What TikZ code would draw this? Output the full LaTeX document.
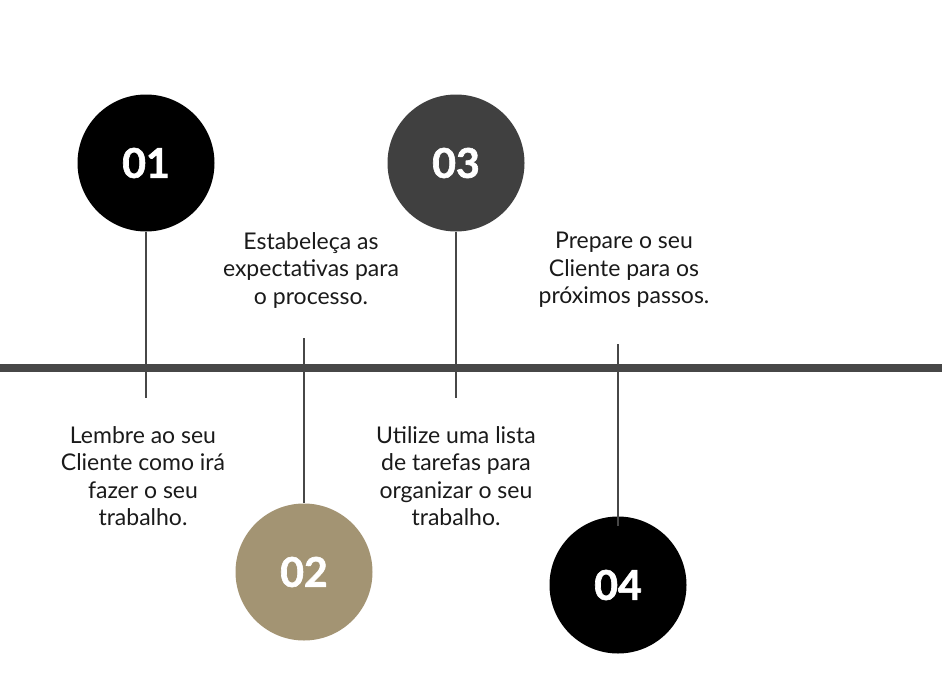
\documentclass[tikz,border=0pt]{standalone}
\usepackage{fontspec}
\setmainfont{Lato}
\newfontfamily\numfont[BoldFeatures={FakeBold=1.6}]{Lato}
\usepackage{tikz}
\usetikzlibrary{positioning,calc}
\definecolor{stepblack}{HTML}{000000}
\definecolor{stepgray}{HTML}{404040}
\definecolor{steptan}{HTML}{A39473}
\definecolor{lineclr}{HTML}{474747}
\definecolor{txtclr}{HTML}{1A1A1A}

\begin{document}
\begin{tikzpicture}[
        x=1pt, y=-1pt,
        dot/.style={circle, minimum size=137pt, inner sep=0pt, text=white,
                    font=\fontsize{41}{41}\selectfont\numfont\bfseries},
        desc/.style={align=center, text=txtclr, inner sep=0pt,
                    font=\fontsize{23}{27.5}\selectfont},
        stem/.style={draw=lineclr, line width=1.8pt},
    ]
        \useasboundingbox (0,0) rectangle (944,680);
        % Timeline bar.
        \coordinate (tlL) at (0,368);
        \coordinate (tlR) at (942,368);
        \draw[draw=lineclr, line width=7.5pt] (tlL) -- (tlR);
        % Stem ends.
        \coordinate (e1) at (146,398);
        \coordinate (e2) at (304,338);
        \coordinate (e3) at (456,398);
        \coordinate (e4) at (618,344);
        % Steps.
        \node[dot, fill=stepblack] (c1) at (146,163) {01};
        \node[dot, fill=steptan]   (c2) at (304,572) {02};
        \node[dot, fill=stepgray]  (c3) at (456,163) {03};
        \node[dot, fill=stepblack] (c4) at (618,585) {04};
        \draw[stem] (c1.south) -- (e1);
        \draw[stem] (e2) -- (c2.north);
        \draw[stem] (c3.south) -- (e3);
        \draw[stem] (e4) -- ([yshift=-10pt]c4.north);
        % Descriptions.
        \node[desc] (t1) at (143,476) {Lembre ao seu\\Cliente como irá\\fazer o seu\\trabalho.};
        \node[desc] (t2) at (311,270) {Estabeleça as\\expectativas para\\o processo.};
        \node[desc] (t3) at (456,476) {Utilize uma lista\\de tarefas para\\organizar o seu\\trabalho.};
        \node[desc] (t4) at (624,270) {Prepare o seu\\Cliente para os\\próximos passos.};
    \end{tikzpicture}
\end{document}
